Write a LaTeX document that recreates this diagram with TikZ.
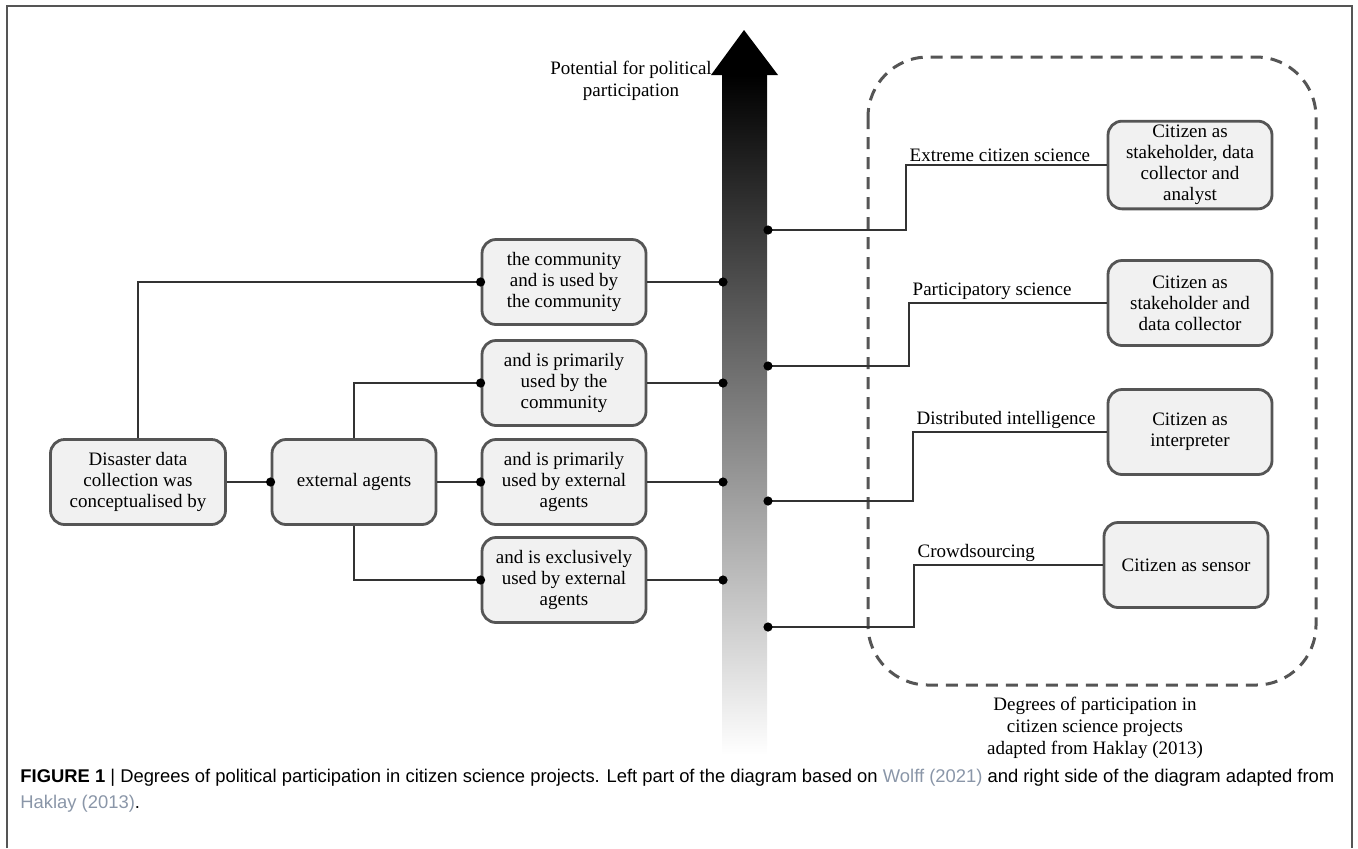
\documentclass[tikz,border=0pt]{standalone}
\usepackage{fontspec}
\setmainfont{Liberation Serif}
\newfontfamily\captionfont{Liberation Sans}
\usetikzlibrary{shapes, positioning}

\definecolor{boxedge}{HTML}{555555}
\definecolor{boxfill}{HTML}{F1F1F1}
\definecolor{linkgray}{HTML}{8A96A8}

\begin{document}
\begin{tikzpicture}[x=0.5pt,y=-0.5pt,on grid,
		stagebox/.style={draw=boxedge, fill=boxfill, line width=1.4pt, rounded corners=7pt,
			minimum width=82pt, minimum height=42.5pt, align=center, inner sep=2pt,
			font=\fontsize{9.5}{10.5}\selectfont},
		link/.style={draw=black!80, line width=0.7pt},
		tag/.style={font=\fontsize{9.5}{11}\selectfont, inner sep=1.5pt},
		groupbox/.style={draw=boxedge, dash pattern=on 6pt off 4pt, line width=1.5pt, rounded corners=30pt}]
			\useasboundingbox (0,0) rectangle (1358,848);
			\draw[boxedge, line width=1pt] (7,848) -- (7,6) -- (1352,6) -- (1352,848);

			% left part
			\node[stagebox, minimum width=87.5pt] (collect) at (138,482) {Disaster data\\collection was\\conceptualised by};
			\node[stagebox] (external) [right=108pt of collect] {external agents};
			\node[stagebox] (byext) [right=105pt of external] {and is primarily\\used by external\\agents};
			\node[stagebox] (bycomm) [above=49.5pt of byext] {and is primarily\\used by the\\community};
			\node[stagebox] (community) [above=50.5pt of bycomm] {the community\\and is used by\\the community};
			\node[stagebox] (exclusive) [below=49pt of byext] {and is exclusively\\used by external\\agents};

			% arrow
			\shade[top color=black, middle color=black!58, bottom color=white] (722,75) rectangle (767,755);
			\fill[black] (711,75) -- (744,30) -- (778,75) -- cycle;
			\coordinate (shaftL) at (723,0);
			\coordinate (lvl1) at (768,230);
			\coordinate (lvl2) at (768,366);
			\coordinate (lvl3) at (768,501);
			\coordinate (lvl4) at (768,627);
			\node[tag, align=center] (potential) at (631,81) {Potential for political\\participation};

			% right part
			\draw[groupbox] (868,57) rectangle (1316,685);
			\node[stagebox] (analyst) at (1190,165) {Citizen as\\stakeholder, data\\collector and\\analyst};
			\node[stagebox] (collector) [below=69pt of analyst] {Citizen as\\stakeholder and\\data collector};
			\node[stagebox] (interpreter) [below=64.5pt of collector] {Citizen as\\interpreter};
			\node[stagebox] (sensor) [below=66.5pt of interpreter, xshift=-2pt] {Citizen as sensor};
			\node[tag, align=center] (degrees) at (1095,728) {Degrees of participation in\\citizen science projects\\adapted from Haklay (2013)};

			\draw[link] (collect.north) |- (community.west);
			\draw[link] (collect.east) -- (external.west);
			\draw[link] (external.north) |- (bycomm.west);
			\draw[link] (external.east) -- (byext.west);
			\draw[link] (external.south) |- (exclusive.west);
			\foreach \b in {external, community, bycomm, byext, exclusive}
				\fill (\b.west) circle (2.3pt);
			\foreach \b in {community, bycomm, byext, exclusive} {
				\draw[link] (\b.east) -- (\b.east -| shaftL);
				\fill (\b.east -| shaftL) circle (2.3pt);
			}

			\draw[link] (lvl1) -- ++(138,0) |- (analyst.west) node[tag, pos=0.5, anchor=south west] {Extreme citizen science};
			\draw[link] (lvl2) -- ++(141,0) |- (collector.west) node[tag, pos=0.5, anchor=south west] {Participatory science};
			\draw[link] (lvl3) -- ++(145,0) |- (interpreter.west) node[tag, pos=0.5, anchor=south west] {Distributed intelligence};
			\draw[link] (lvl4) -- ++(146,0) |- (sensor.west) node[tag, pos=0.5, anchor=south west] {Crowdsourcing};
			\foreach \l in {lvl1, lvl2, lvl3, lvl4}
				\fill (\l) circle (2.3pt);

			% caption
			\node[anchor=north west, align=left, inner sep=0pt, font=\captionfont\fontsize{9.2}{13}\selectfont] (caption) at (20,769)
				{\textbf{FIGURE 1} | Degrees of political participation in citizen science projects. Left part of the diagram based on \textcolor{linkgray}{Wolff (2021)} and right side of the diagram adapted from\\
				\textcolor{linkgray}{Haklay (2013)}.};
		\end{tikzpicture}
\end{document}
